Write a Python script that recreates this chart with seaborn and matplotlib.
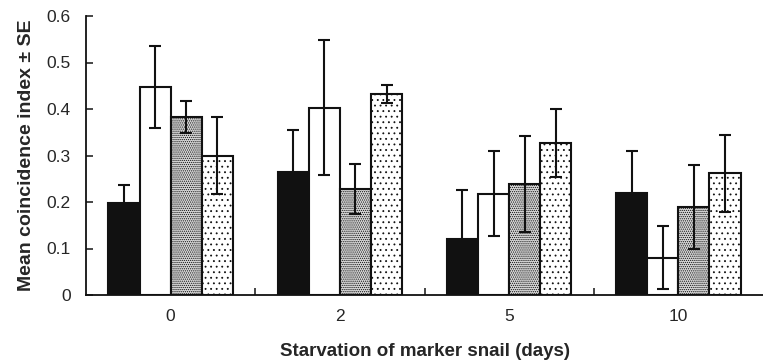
import numpy as np
import pandas as pd
import matplotlib
matplotlib.use("Agg")
import matplotlib.pyplot as plt
import seaborn as sns

days = ["0", "2", "5", "10"]
series = ["S1", "S2", "S3", "S4"]
s1_mean = [0.197, 0.265, 0.120, 0.220]
s1_se = [0.040, 0.089, 0.106, 0.090]
s2_mean = [0.448, 0.403, 0.218, 0.080]
s2_se = [0.088, 0.145, 0.092, 0.068]
s3_mean = [0.383, 0.228, 0.238, 0.190]
s3_se = [0.034, 0.054, 0.103, 0.090]
s4_mean = [0.300, 0.432, 0.327, 0.262]
s4_se = [0.083, 0.019, 0.074, 0.083]

means = [s1_mean, s2_mean, s3_mean, s4_mean]
ses = [s1_se, s2_se, s3_se, s4_se]
rows = []
for s, m, e in zip(series, means, ses):
    for d, mv, ev in zip(days, m, e):
        rows.append({"day": d, "series": s, "mean": mv, "se": ev})
df = pd.DataFrame(rows)

sns.set_style("ticks")
plt.rcParams["font.family"] = ["Liberation Sans", "DejaVu Sans"]
plt.rcParams["hatch.linewidth"] = 0.6

fig = plt.figure(figsize=(7.63, 3.61), dpi=100)
ax = fig.add_axes([86 / 763, 1 - 295 / 361, 1 - 86 / 763, (295 - 16) / 361])

sns.barplot(data=df, x="day", y="mean", hue="series", order=days,
            hue_order=series, errorbar=None, width=0.735,
            palette=["#111111", "white", "#d8d8d8", "white"],
            edgecolor="#111111", linewidth=1.5, legend=False, ax=ax)

hatches = [None, None, "........", "..."]
bar_conts = list(ax.containers)
for i, cont in enumerate(bar_conts):
    for j, bar in enumerate(cont):
        if hatches[i]:
            bar.set_hatch(hatches[i])
        x = bar.get_x() + bar.get_width() / 2
        ax.errorbar(x, means[i][j], yerr=ses[i][j], color="#111111",
                    elinewidth=1.5, capsize=4.5, capthick=1.5, zorder=5)

ax.set_xlim(-0.5, 3.5)
ax.set_ylim(0, 0.6)
ax.set_yticks([0, 0.1, 0.2, 0.3, 0.4, 0.5, 0.6])
ax.set_yticklabels(["0", "0.1", "0.2", "0.3", "0.4", "0.5", "0.6"])
ax.set_xticks([0, 1, 2, 3])
ax.set_xticks([0.5, 1.5, 2.5], minor=True)
ax.tick_params(axis="x", which="major", length=0, labelsize=12.5, pad=10)
ax.tick_params(axis="x", which="minor", direction="in", length=5, width=1.2)
ax.tick_params(axis="y", direction="in", length=5, width=1.2, labelsize=12.5, pad=11)
sns.despine(ax=ax)
for sp in ["left", "bottom"]:
    ax.spines[sp].set_linewidth(1.3)
    ax.spines[sp].set_color("#111111")

ax.set_xlabel("Starvation of marker snail (days)", fontsize=13.5,
              fontweight="bold", labelpad=14)
ax.set_ylabel("Mean coincidence index \u00b1 SE", fontsize=14,
              fontweight="bold", labelpad=8)

fig.savefig("out.png", dpi=100)
